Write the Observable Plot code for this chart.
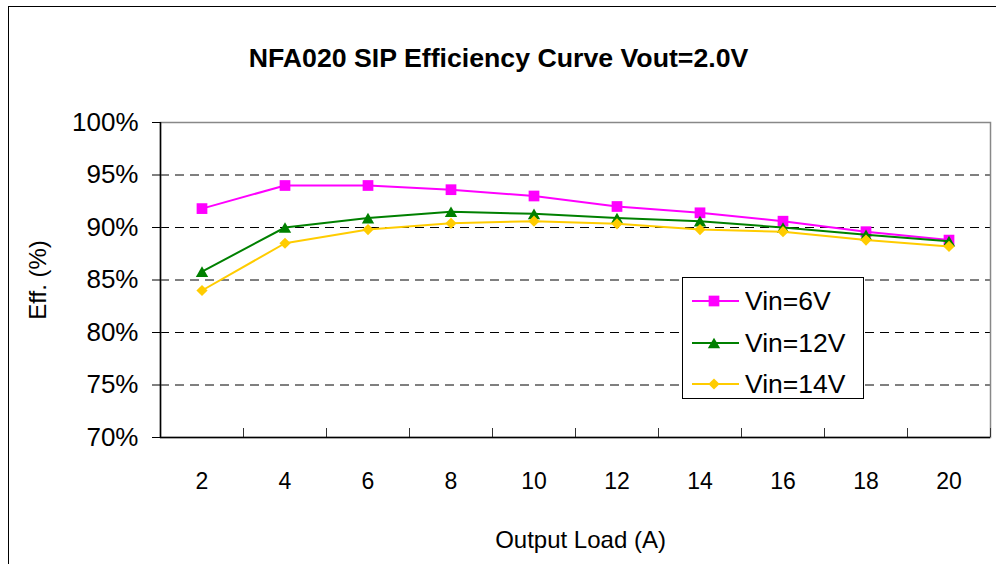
<!DOCTYPE html>
<html><head><meta charset="utf-8">
<script src="https://cdn.jsdelivr.net/npm/d3@7"></script>
<script src="https://cdn.jsdelivr.net/npm/@observablehq/plot@0.6"></script>
<style>
html,body{margin:0;padding:0;background:#fff;}
#wrap{position:relative;width:996px;height:564px;overflow:hidden;background:#fff;font-family:"Liberation Sans",Arial,sans-serif;}
#border{position:absolute;left:8px;top:6px;width:2000px;height:2000px;border-left:1px solid #000;border-top:1px solid #000;}
#wrap svg.plot{position:absolute;left:0;top:0;}
#legend{position:absolute;left:682px;top:277px;width:182px;height:122px;box-sizing:border-box;border:1px solid #000;background:#fff;}
#legend .row{position:absolute;left:0;height:30px;width:180px;}
#legend .row svg{position:absolute;left:0;top:0;}
#legend .row span{position:absolute;left:62px;top:0;line-height:30px;font-size:26.5px;color:#000;white-space:nowrap;}
</style></head>
<body><div id="wrap"><div id="border"></div></div>
<script>
// ---- data ----
const loads = [2, 4, 6, 8, 10, 12, 14, 16, 18, 20];
const vin6  = [91.8, 94.0, 94.0, 93.6, 93.0, 92.0, 91.4, 90.6, 89.6, 88.8];
const vin12 = [85.8, 90.0, 90.9, 91.5, 91.3, 90.9, 90.6, 90.0, 89.3, 88.7];
const vin14 = [84.0, 88.5, 89.8, 90.4, 90.6, 90.35, 89.8, 89.6, 88.8, 88.2];
const seriesNames = ["Vin=6V", "Vin=12V", "Vin=14V"];
const yTicks = [70, 75, 80, 85, 90, 95, 100];
const gridTicks = [75, 80, 85, 90, 95];
const titleText = "NFA020 SIP Efficiency Curve Vout=2.0V";
const xLabel = "Output Load (A)";
const yLabel = "Eff. (%)";

// ---- styles ----
const FONT = '"Liberation Sans", Arial, sans-serif';
// box-centred triangle (like spreadsheet markers)
const boxTriangle = {
  draw(context, size) {
    const s = Math.sqrt(4 * size / Math.sqrt(3));
    const h = s * Math.sqrt(3) / 2;
    context.moveTo(0, -h / 2);
    context.lineTo(s / 2, h / 2);
    context.lineTo(-s / 2, h / 2);
    context.closePath();
  }
};
const seriesColors = ["#FF00FF", "#008000", "#FFCC00"];
const seriesSymbols = [d3.symbolSquare, boxTriangle, d3.symbolDiamond2];
const symbolArea = [115, 66, 80];

const seriesValues = [vin6, vin12, vin14];
const series = seriesNames.map((name, i) => loads.map((load, j) => ({series: name, load, eff: seriesValues[i][j]})));
const boundaries = [...loads.map(d => d - 1), loads[loads.length - 1] + 1];

const seriesMarks = series.flatMap((data, i) => [
  Plot.line(data, {x: "load", y: "eff", stroke: seriesColors[i], strokeWidth: 2}),
  Plot.dot(data, {x: "load", y: "eff", symbol: seriesSymbols[i], r: Math.sqrt(symbolArea[i] / Math.PI), fill: seriesColors[i], stroke: "none"})
]);

const chart = Plot.plot({
  width: 996, height: 564,
  marginLeft: 160, marginRight: 6, marginTop: 122, marginBottom: 127,
  style: {fontFamily: FONT, background: "transparent", color: "#000", overflow: "visible"},
  x: {type: "linear", domain: [1, 21], axis: null},
  y: {domain: [70, 100], axis: null},
  marks: [
    Plot.ruleY(gridTicks, {y: d => d, stroke: "#000", strokeWidth: 1, strokeDasharray: "9,6"}),
    Plot.frame({stroke: "#888", strokeWidth: 1.5}),
    Plot.ruleX(boundaries, {x: d => d, insetTop: 306, stroke: "#333", strokeWidth: 1}),
    Plot.ruleY(yTicks, {y: d => d, insetLeft: -8, insetRight: 830, stroke: "#000", strokeWidth: 1}),
    Plot.ruleX([boundaries[0]], {x: d => d, stroke: "#000", strokeWidth: 1.5}),
    Plot.ruleY([yTicks[0]], {y: d => d, stroke: "#000", strokeWidth: 1.5}),
    Plot.text(yTicks, {y: d => d, text: d => d + "%", frameAnchor: "left", dx: -22, textAnchor: "end", lineAnchor: "middle", fontSize: 26, fill: "#000"}),
    Plot.text(loads, {x: d => d, text: d => String(d), frameAnchor: "bottom", dy: 44.5, textAnchor: "middle", lineAnchor: "middle", fontSize: 23, fill: "#000"}),
    ...seriesMarks,
    Plot.text([titleText], {text: d => d, frameAnchor: "top-left", dx: 338, dy: -64, textAnchor: "middle", lineAnchor: "middle", fontSize: 26.7, fontWeight: "bold", fill: "#000"}),
    Plot.text([xLabel], {text: d => d, frameAnchor: "bottom", dx: 5, dy: 103, textAnchor: "middle", lineAnchor: "middle", fontSize: 24, fill: "#000"}),
    Plot.text([yLabel], {text: d => d, frameAnchor: "left", dx: -122, rotate: -90, textAnchor: "middle", lineAnchor: "middle", fontSize: 24, fill: "#000"})
  ]
});
document.getElementById("wrap").appendChild(chart);

// ---- legend ----
const legend = d3.select("#wrap").append("div").attr("id", "legend");
seriesNames.forEach((name, i) => {
  const row = legend.append("div").attr("class", "row").style("top", (8 + i * 41.5) + "px");
  const s = row.append("svg").attr("width", 60).attr("height", 30);
  s.append("line").attr("x1", 9).attr("x2", 56).attr("y1", 15).attr("y2", 15)
    .attr("stroke", seriesColors[i]).attr("stroke-width", 2);
  s.append("path").attr("transform", "translate(31,15)")
    .attr("d", d3.symbol(seriesSymbols[i], symbolArea[i])())
    .attr("fill", seriesColors[i]);
  row.append("span").text(name);
});
</script></body></html>
